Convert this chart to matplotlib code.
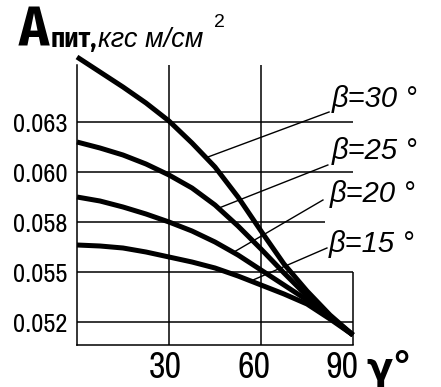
import matplotlib
matplotlib.use('Agg')
import matplotlib.pyplot as plt
from matplotlib import font_manager
from matplotlib.ft2font import FT2Font
from matplotlib.transforms import ScaledTranslation

# угол гамма, град
gamma = [0, 7.5, 15, 22.5, 30, 37.5, 45, 52.5, 60, 67.5, 75, 82.5, 90]

# удельная работа питания для разных бета
betas = [30, 25, 20, 15]
a_b30 = [0.06575, 0.06500, 0.06425, 0.06345, 0.06255, 0.06145, 0.06025,
         0.05875, 0.05705, 0.05540, 0.05405, 0.05285, 0.05185]
a_b25 = [0.06150, 0.06120, 0.06085, 0.06040, 0.05985, 0.05920, 0.05835,
         0.05730, 0.05615, 0.05495, 0.05380, 0.05275, 0.05185]
a_b20 = [0.05875, 0.05855, 0.05825, 0.05790, 0.05750, 0.05705, 0.05650,
         0.05585, 0.05510, 0.05435, 0.05360, 0.05275, 0.05185]
a_b15 = [0.05635, 0.05630, 0.05620, 0.05600, 0.05575, 0.05550, 0.05520,
         0.05480, 0.05435, 0.05390, 0.05340, 0.05265, 0.05185]
curves = [a_b30, a_b25, a_b20, a_b15]

x_ticks = [30, 60, 90]
y_ticks = [0.0525, 0.055, 0.0575, 0.06, 0.0625]
y_tick_labels = ['0.052', '0.055', '0.058', '0.060', '0.063']

# выноски от кривых к подписям: (x кривой, y кривой, x подписи, y подписи)
leaders = [(42.7, 0.06075, 82.2, 0.0630),
           (46.3, 0.0582, 81.8, 0.06035),
           (51.2, 0.0560, 80.2, 0.0586),
           (57.4, 0.0546, 81.5, 0.0562)]
label_pos = [(83.0, 0.06325), (83.0, 0.06065), (82.3, 0.0585), (82.0, 0.0560)]


def has_glyphs(path, chars):
    try:
        cmap = FT2Font(path).get_charmap()
    except Exception:
        return False
    return all(ord(c) in cmap for c in chars)


def narrow_font(chars):
    fonts = font_manager.fontManager.ttflist
    pref = [f for f in fonts if f.name == 'Liberation Sans Narrow']
    pref += [f for f in fonts if 'Narrow' in f.name or 'Condensed' in f.name]
    for f in pref:
        if has_glyphs(f.fname, chars):
            return dict(family=f.name), True
    for f in fonts:
        if f.name == 'DejaVu Sans' and 'condensed' in str(f.stretch):
            return dict(family='DejaVu Sans', stretch='condensed'), True
    return dict(family='Liberation Sans'), False


narrow, is_narrow = narrow_font('0123456789.')
narrow_cyr, is_narrow_cyr = narrow_font('Апит,')
k = 1.0 if is_narrow else 0.85        # обычный шрифт шире, поэтому мельче
k_cyr = 1.0 if is_narrow_cyr else 0.85

W, H = 441, 387
fig = plt.figure(figsize=(W / 100, H / 100), dpi=100)
ax = fig.add_axes([77 / W, 1 - 345 / H, 276 / W, 303 / H])
ax.set_xlim(0, 90)
ax.set_ylim(0.05135, 0.0665)

top = 0.06535
for s in ['top', 'right']:
    ax.spines[s].set_visible(False)
ax.spines['left'].set_bounds(0.05135, top)
for s in ['left', 'bottom']:
    ax.spines[s].set_linewidth(1.1)

# сетка
grid_kw = dict(color='black', lw=1.1, clip_on=False)
ax.vlines([30, 60], 0.05135, top, **grid_kw)
ax.vlines([90], 0.05135, 0.055, **grid_kw)
for yv in y_ticks:
    x_end = 81 if yv == 0.0575 else 90
    ax.hlines(yv, 0, x_end, **grid_kw)

for ys in curves:
    ax.plot(gamma, ys, color='black', lw=3.6, solid_capstyle='butt',
            solid_joinstyle='round', clip_on=False, zorder=3)

for (x0, y0, x1, y1) in leaders:
    ax.plot([x0, x1], [y0, y1], color='black', lw=1.0, clip_on=False)

for b, (lx, ly) in zip(betas, label_pos):
    ax.text(lx, ly, f'β={b} °', fontsize=21, style='italic',
            family='Liberation Sans', ha='left', va='baseline')

ax.set_xticks(x_ticks)
ax.set_xticklabels([str(v) for v in x_ticks], fontsize=26 * k, **narrow)
ax.set_yticks(y_ticks)
ax.set_yticklabels(y_tick_labels, fontsize=19 * k, **narrow)
ax.tick_params(length=0)
ax.tick_params(axis='y', pad=7)
ax.tick_params(axis='x', pad=4)
for lab, dx in zip(ax.get_xticklabels(), [-4, -7, -11]):
    lab.set_transform(lab.get_transform() + ScaledTranslation(dx / 100, 0, fig.dpi_scale_trans))

# подпись оси абсцисс
fig.text(366 / W, 1 - 380 / H, 'γ°', fontsize=28, fontweight='bold',
         family='DejaVu Sans', ha='left', va='baseline')

# заголовок оси ординат: куски идут друг за другом
renderer = fig.canvas.get_renderer()
x_px = 19
parts = [('А', dict(fontsize=40 * k_cyr, fontweight='bold', **narrow_cyr), 0, 0),
         ('пит,', dict(fontsize=19.5 * k_cyr, fontweight='bold', **narrow_cyr), 0, 0),
         ('кгс м/см', dict(fontsize=19.5, style='italic', family='Liberation Sans'), 0, 0),
         ('2', dict(fontsize=14, family='Liberation Sans'), 20, 10)]
for txt, kw, dy, gap in parts:
    x_px += gap
    t = fig.text(x_px / W, 1 - (47 - dy) / H, txt, ha='left', va='baseline', **kw)
    x_px = t.get_window_extent(renderer).x1 + 1

fig.savefig('out.png', dpi=100)
